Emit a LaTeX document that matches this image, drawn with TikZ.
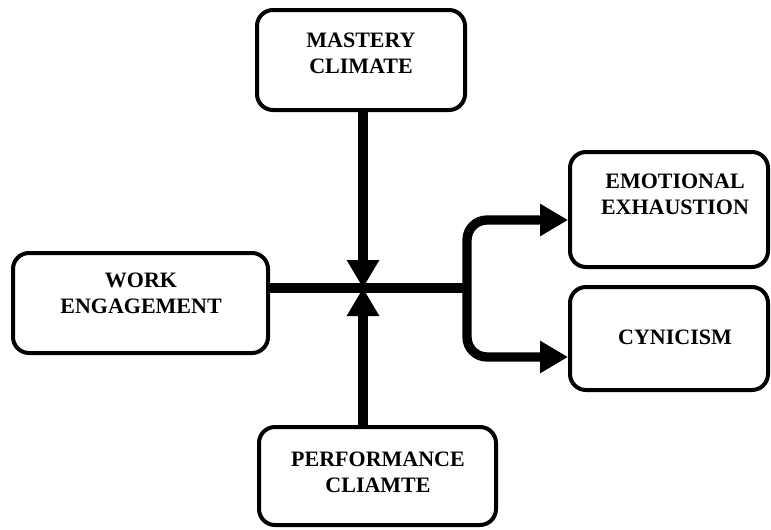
\documentclass[tikz,border=0pt]{standalone}
\usepackage{fontspec}
\setmainfont{Liberation Serif}
\usetikzlibrary{arrows.meta}

\tikzset{
  box/.style={draw=black, line width=3pt, rounded corners=12pt, fill=white, inner sep=0pt},
  boxtext/.style={align=center, inner sep=0pt, font=\bfseries\fontsize{16.5}{19.5}\selectfont},
  flow/.style={draw=black, line width=7pt},
  tip/.style={-{Triangle[length=21pt,width=23pt]}}
}

\begin{document}
\begin{tikzpicture}[x=0.75pt,y=-0.75pt]
  \useasboundingbox (0,0) rectangle (771,529);

  \coordinate (hub) at (363,288);
  \coordinate (split) at (467,288);
  \coordinate (upbend) at (467,220);
  \coordinate (lowbend) at (467,357);

  \node (mastery) at (361,60) [box, minimum width=156pt, minimum height=75pt] {};
  \node (work) at (140.5,303) [box, minimum width=191.25pt, minimum height=75pt] {};
  \node (emo) at (669,209.5) [box, minimum width=148.5pt, minimum height=86.25pt] {};
  \node (cyn) at (669,338.5) [box, minimum width=148.5pt, minimum height=77.25pt] {};
  \node (perf) at (377.5,476) [box, minimum width=177.75pt, minimum height=73.5pt] {};

  \node (masterytxt) at (361,53) [boxtext] {MASTERY\\CLIMATE};
  \node (worktxt) at (141,293) [boxtext] {WORK\\ENGAGEMENT};
  \node (emotxt) at (675,194) [boxtext] {EMOTIONAL\\EXHAUSTION};
  \node (cyntxt) at (675,337) [boxtext] {CYNICISM};
  \node (perftxt) at (378,472) [boxtext] {PERFORMANCE\\CLIAMTE};

  \draw[flow] (work.east |- hub) -- (split);
  \draw[flow, tip] (mastery.south -| hub) -- (hub);
  \draw[flow, tip] (perf.north -| hub) -- (hub);
  \draw[flow, tip, rounded corners=15] (split) |- (emo.west |- upbend);
  \draw[flow, tip, rounded corners=15] (split) |- (cyn.west |- lowbend);
\end{tikzpicture}
\end{document}
